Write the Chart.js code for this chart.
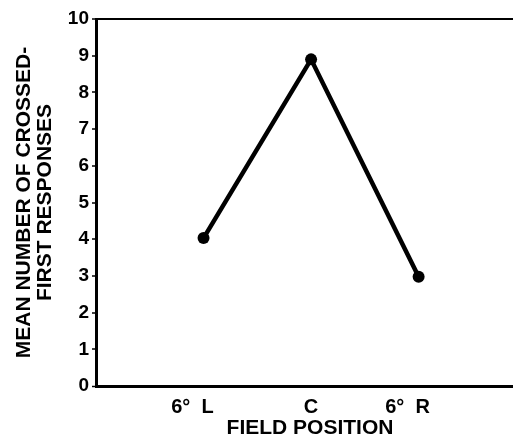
<!DOCTYPE html>
<html>
<head>
<meta charset="utf-8">
<script src="https://cdn.jsdelivr.net/npm/chart.js@4/dist/chart.umd.min.js"></script>
<style>
  html, body { margin: 0; padding: 0; background: #fff; overflow: hidden; width: 513px; height: 439px; }
  #wrap { width: 530px; height: 439px; position: relative; }
</style>
</head>
<body>
<div id="wrap"><canvas id="c"></canvas></div>
<script>
const categories = ['6° L', 'C', '6° R'];
const meanResponses = [4.03, 8.9, 2.98];
const yTicks = [0, 1, 2, 3, 4, 5, 6, 7, 8, 9, 10];
const yTitle = ['MEAN NUMBER OF CROSSED-', 'FIRST RESPONSES'];
const xTitle = 'FIELD POSITION';

const FONT = '"Liberation Sans", Arial, Helvetica, sans-serif';
const points = categories.map((c, i) => ({ x: i + 1, y: meanResponses[i] }));

new Chart(document.getElementById('c'), {
  type: 'line',
  data: {
    datasets: [{
      data: points,
      borderColor: '#000',
      backgroundColor: '#000',
      borderWidth: 4.5,
      pointRadius: 6,
      pointHoverRadius: 6,
      pointBackgroundColor: '#000',
      pointBorderWidth: 0,
      tension: 0
    }]
  },
  options: {
    responsive: true,
    maintainAspectRatio: false,
    animation: false,
    layout: { padding: { left: 0, right: 0, top: 19, bottom: 0 } },
    plugins: { legend: { display: false }, tooltip: { enabled: false } },
    scales: {
      x: {
        type: 'linear',
        min: 0,
        max: 3.98,
        afterBuildTicks: (s) => { s.ticks = categories.map((c, i) => ({ value: i + 1 })); },
        afterFit: (s) => { s.height = 53; },
        ticks: {
          color: '#000',
          font: { family: FONT, size: 20, weight: 'bold' },
          padding: 9,
          maxRotation: 0,
          autoSkip: false,
          callback: (v) => {
            const lab = categories[v - 1] || '';
            return lab.includes(' ') ? lab.replace(' ', '  ') + '    ' : lab;
          }
        },
        grid: { drawOnChartArea: false, drawTicks: true, tickLength: 0, tickColor: 'rgba(0,0,0,0)' },
        border: { display: false },
        title: {
          display: true,
          text: xTitle,
          color: '#000',
          font: { family: FONT, size: 21, weight: 'bold', lineHeight: 1 },
          padding: { top: 0, bottom: 0 }
        }
      },
      y: {
        min: 0,
        max: 10,
        afterBuildTicks: (s) => { s.ticks = yTicks.map(v => ({ value: v })); },
        afterFit: (s) => { s.width = 96; },
        ticks: {
          color: '#000',
          font: { family: FONT, size: 19, weight: 'bold' },
          padding: 3
        },
        grid: {
          color: (ctx) => (ctx.tick && (ctx.tick.value === 10 || ctx.tick.value === 0)) ? '#000' : 'rgba(0,0,0,0)',
          lineWidth: (ctx) => (ctx.tick && ctx.tick.value === 0) ? 3 : 2,
          drawTicks: true,
          tickLength: 4,
          tickColor: '#000',
          tickWidth: 1.5
        },
        border: { display: true, color: '#000', width: 3 },
        title: {
          display: true,
          text: yTitle,
          color: '#000',
          font: { family: FONT, size: 21, weight: 'bold', lineHeight: 1 },
          padding: { top: 14, bottom: 0 }
        }
      }
    }
  }
});
</script>
</body>
</html>
